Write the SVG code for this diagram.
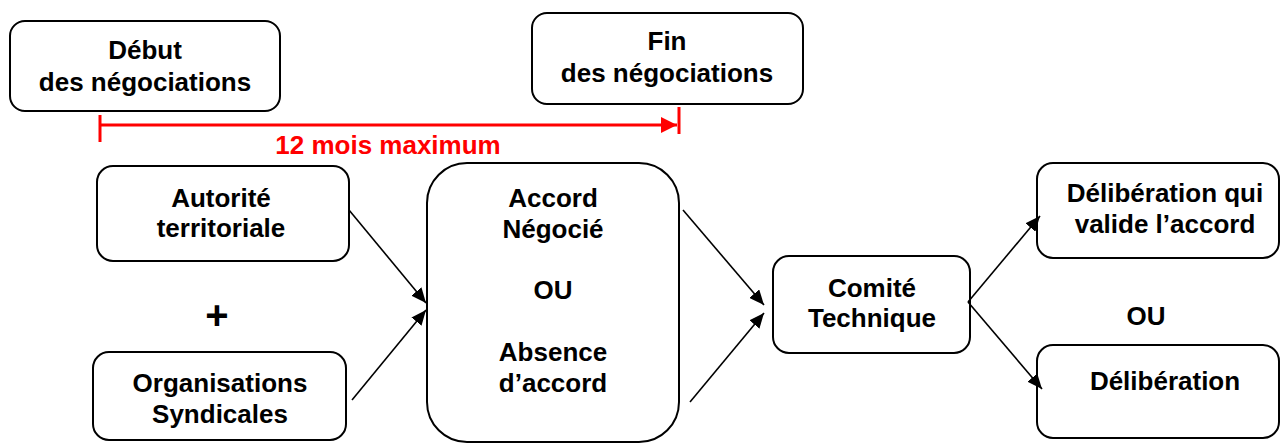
<svg xmlns="http://www.w3.org/2000/svg" width="1281" height="444" viewBox="0 0 1281 444">
<defs>
<style>
.box{fill:#fff;stroke:#000;stroke-width:2}
.t{font-family:"Liberation Sans",Arial,sans-serif;font-weight:bold;font-size:26px;fill:#000;text-anchor:middle}
.red{fill:#ff0000}
.conn{stroke:#000;stroke-width:1.6;fill:none;marker-end:url(#ah)}
.rl{stroke:#ff0000;stroke-width:3;fill:none}
</style>
<marker id="ah" markerUnits="userSpaceOnUse" markerWidth="15" markerHeight="13" refX="15" refY="6.5" orient="auto">
<path d="M0,0 L15,6.5 L0,13 z" fill="#000"/>
</marker>
<marker id="rah" markerUnits="userSpaceOnUse" markerWidth="16" markerHeight="16" refX="16" refY="8" orient="auto">
<path d="M0,0 L16,8 L0,16 z" fill="#ff0000"/>
</marker>
</defs>
<rect width="1281" height="444" fill="#fff"/>

<g id="debut">
<rect class="box" x="10" y="21" width="270" height="90" rx="15"/>
<text class="t" x="145" y="59">Début</text>
<text class="t" x="145" y="91">des négociations</text>
</g>

<g id="fin">
<rect class="box" x="532" y="13" width="271" height="91" rx="15"/>
<text class="t" x="667" y="50">Fin</text>
<text class="t" x="667" y="82">des négociations</text>
</g>

<g id="duree">
<line class="rl" x1="100" y1="125" x2="677" y2="125" marker-end="url(#rah)"/>
<line class="rl" x1="100" y1="115" x2="100" y2="142"/>
<line class="rl" x1="679" y1="107" x2="679" y2="134"/>
<text class="t red" x="388" y="154">12 mois maximum</text>
</g>

<g id="autorite">
<rect class="box" x="97" y="166" width="252" height="95" rx="16"/>
<text class="t" x="221" y="207">Autorité</text>
<text class="t" x="221" y="237">territoriale</text>
</g>

<g id="plus">
<text class="t" x="217" y="329" style="font-size:40px">+</text>
</g>

<g id="organisations">
<rect class="box" x="93" y="352" width="253" height="88" rx="16"/>
<text class="t" x="220" y="392">Organisations</text>
<text class="t" x="220" y="423">Syndicales</text>
</g>

<g id="accord">
<rect class="box" x="427" y="163" width="252" height="279" rx="40"/>
<text class="t" x="553" y="207">Accord</text>
<text class="t" x="553" y="238">Négocié</text>
<text class="t" x="553" y="299">OU</text>
<text class="t" x="553" y="361">Absence</text>
<text class="t" x="553" y="392">d’accord</text>
</g>

<g id="comite">
<rect class="box" x="773" y="256" width="197" height="97" rx="16"/>
<text class="t" x="872" y="297">Comité</text>
<text class="t" x="872" y="327">Technique</text>
</g>

<g id="delib-valide">
<rect class="box" x="1037" y="163" width="242" height="95" rx="16"/>
<text class="t" x="1165" y="202">Délibération qui</text>
<text class="t" x="1165" y="233">valide l’accord</text>
</g>

<g id="ou">
<text class="t" x="1146" y="325">OU</text>
</g>

<g id="delib">
<rect class="box" x="1037" y="345" width="242" height="93" rx="16"/>
<text class="t" x="1165" y="390">Délibération</text>
</g>

<g id="connectors">
<line class="conn" x1="349" y1="210" x2="426" y2="303"/>
<line class="conn" x1="352" y1="400" x2="426" y2="310"/>
<line class="conn" x1="683" y1="210" x2="764" y2="305"/>
<line class="conn" x1="690" y1="402" x2="764" y2="313"/>
<line class="conn" x1="968" y1="302" x2="1040" y2="216"/>
<line class="conn" x1="968" y1="302" x2="1042" y2="389"/>
</g>
</svg>
